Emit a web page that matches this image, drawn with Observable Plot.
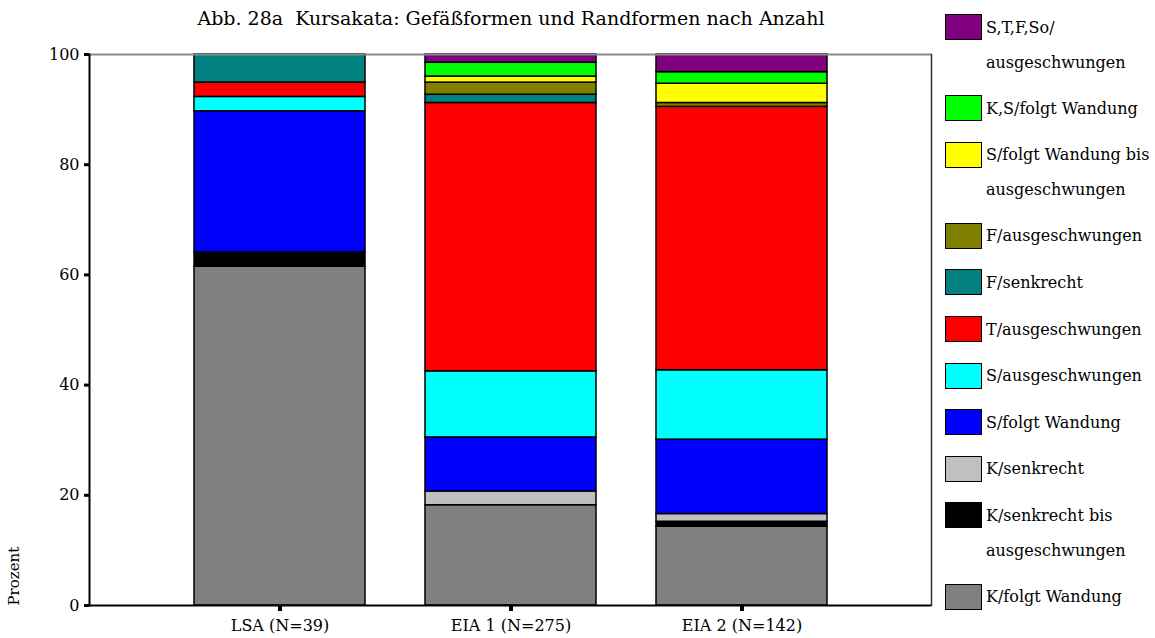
<!DOCTYPE html>
<html>
<head>
<meta charset="utf-8">
<script src="https://cdn.jsdelivr.net/npm/d3@7"></script>
<script src="https://cdn.jsdelivr.net/npm/@observablehq/plot@0.6"></script>
<style>
  html, body { margin: 0; padding: 0; background: #fff; }
  #wrap { position: relative; width: 1155px; height: 638px; background: #fff; font-family: "DejaVu Serif", "Liberation Serif", serif; color: #000; overflow: hidden; }
  #title { position: absolute; left: 0; width: 1022px; top: 7px; text-align: center; font-size: 19px; white-space: pre; }
  #chart { position: absolute; left: 0; top: 40px; }
  .lg-sw { position: absolute; width: 37px; height: 26px; border: 1.5px solid #000; box-sizing: border-box; }
  .lg-tx { position: absolute; font-size: 16px; line-height: 35px; white-space: pre; }
</style>
</head>
<body>
<div id="wrap">
  <div id="title"></div>
  <div id="chart"></div>
  <div id="legend"></div>
</div>
<script>
const titleText = "Abb. 28a  Kursakata: Gefäßformen und Randformen nach Anzahl";
const groups = ["LSA (N=39)", "EIA 1 (N=275)", "EIA 2 (N=142)"];
// series from bottom of stack to top
const series = [
  "K/folgt Wandung",
  "K/senkrecht bis ausgeschwungen",
  "K/senkrecht",
  "S/folgt Wandung",
  "S/ausgeschwungen",
  "T/ausgeschwungen",
  "F/senkrecht",
  "F/ausgeschwungen",
  "S/folgt Wandung bis ausgeschwungen",
  "K,S/folgt Wandung",
  "S,T,F,So/ausgeschwungen"
];
const legendLabels = [
  "K/folgt Wandung",
  "K/senkrecht bis\nausgeschwungen",
  "K/senkrecht",
  "S/folgt Wandung",
  "S/ausgeschwungen",
  "T/ausgeschwungen",
  "F/senkrecht",
  "F/ausgeschwungen",
  "S/folgt Wandung bis\nausgeschwungen",
  "K,S/folgt Wandung",
  "S,T,F,So/\nausgeschwungen"
];
const colors = ["#808080", "#000000", "#c0c0c0", "#0000ff", "#00ffff", "#ff0000", "#008080", "#808000", "#ffff00", "#00ff00", "#800080"];
const valuesLSA  = [61.5, 2.6, 0, 25.6, 2.6, 2.6, 5.1, 0, 0, 0, 0];
const valuesEIA1 = [18.2, 0, 2.5, 9.8, 12.0, 48.7, 1.5, 2.2, 1.1, 2.5, 1.5];
const valuesEIA2 = [14.3, 0.9, 1.4, 13.5, 12.6, 47.8, 0, 0.7, 3.5, 2.1, 3.2];
const yTicks = [0, 20, 40, 60, 80, 100];
const yLabel = "Prozent";

const valueSets = [valuesLSA, valuesEIA1, valuesEIA2];
const data = [];
groups.forEach((g, gi) => {
  series.forEach((s, si) => {
    const v = valueSets[gi][si];
    if (v > 0) data.push({group: g, series: s, value: v});
  });
});

document.getElementById("title").textContent = titleText;

const font = "DejaVu Serif, Liberation Serif, serif";
const chart = Plot.plot({
  width: 940,
  height: 598,
  marginTop: 14,
  marginBottom: 33,
  marginLeft: 89,
  marginRight: 9,
  style: {fontFamily: font, fontSize: "16px", color: "#000", background: "#fff"},
  x: {domain: groups, paddingInner: 0.26, paddingOuter: 0.45, label: null},
  y: {domain: [0, 100], label: null},
  color: {domain: series, range: colors},
  marks: [
    Plot.barY(data, Plot.stackY({
      x: "group", y: "value", fill: "series", z: "series", order: series,
      stroke: "#000", strokeWidth: 1.5, inset: 0
    })),
    Plot.ruleY([100], {stroke: "#8a8a8a", strokeWidth: 2}),
    Plot.frame({anchor: "right", stroke: "#333", strokeWidth: 1.5}),
    Plot.ruleY([0], {stroke: "#000", strokeWidth: 2}),
    Plot.frame({anchor: "left", stroke: "#000", strokeWidth: 2}),
    Plot.axisY({ticks: yTicks, tickSize: 5, strokeWidth: 3, tickPadding: 5, fontSize: 16, label: null}),
    Plot.axisX({tickSize: 6, strokeWidth: 4, tickPadding: 8, fontSize: 16, label: null}),
    Plot.text([yLabel], {frameAnchor: "bottom-left", dx: -71, rotate: -90, textAnchor: "start", fontSize: 15})
  ]
});
document.getElementById("chart").appendChild(chart);

// legend, top to bottom = reverse stacking order
const legend = document.getElementById("legend");
let cy = 27;
for (let i = series.length - 1; i >= 0; i--) {
  const sw = document.createElement("div");
  sw.className = "lg-sw";
  sw.style.left = "945px";
  sw.style.top = (cy - 13) + "px";
  sw.style.background = colors[i];
  legend.appendChild(sw);
  const tx = document.createElement("div");
  tx.className = "lg-tx";
  tx.style.left = "986px";
  tx.style.top = (cy - 17.5) + "px";
  tx.textContent = legendLabels[i];
  legend.appendChild(tx);
  const lines = legendLabels[i].split("\n").length;
  cy += 46.6 + (lines - 1) * 34.5;
}
</script>
</body>
</html>
